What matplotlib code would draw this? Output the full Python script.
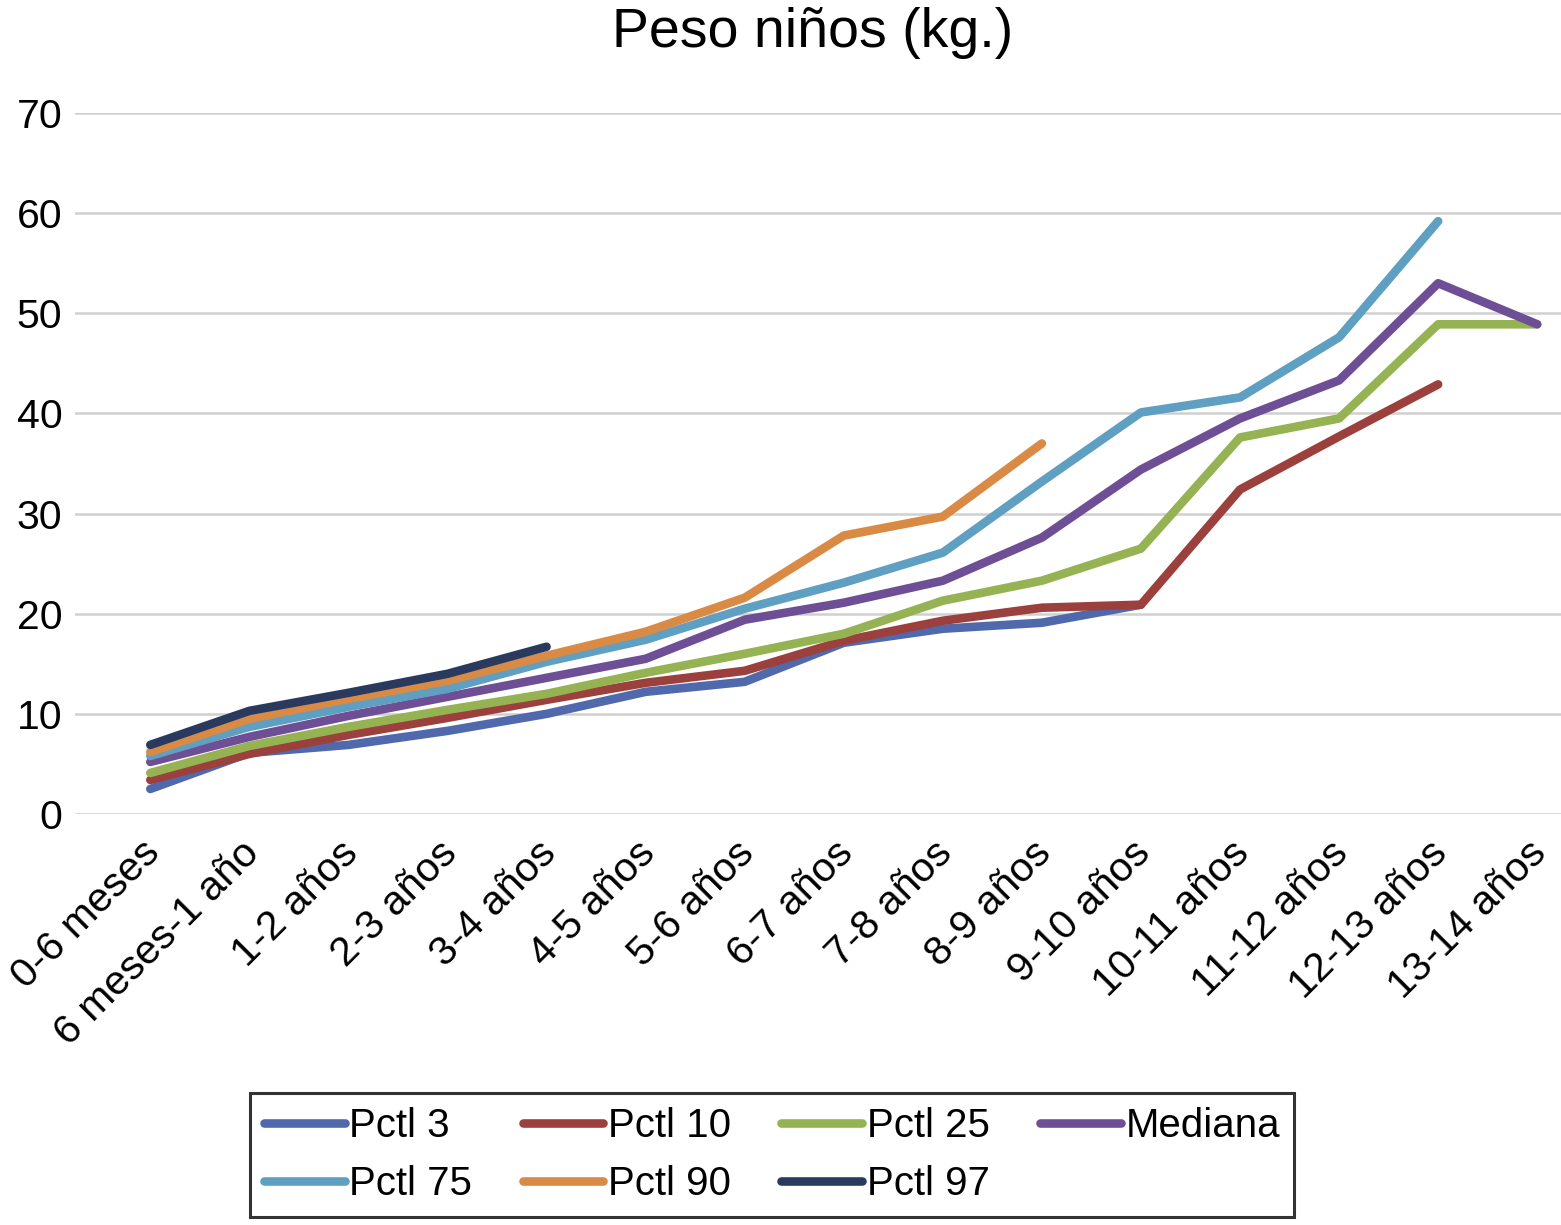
import matplotlib
matplotlib.use('Agg')
import matplotlib.pyplot as plt
import matplotlib.transforms as mtransforms
import numpy as np

nan = np.nan

categorias = ['0-6 meses', '6 meses-1 año', '1-2 años', '2-3 años', '3-4 años',
              '4-5 años', '5-6 años', '6-7 años', '7-8 años', '8-9 años',
              '9-10 años', '10-11 años', '11-12 años', '12-13 años', '13-14 años']

pctl_3 = [2.5, 6.1, 6.9, 8.3, 10.0, 12.2, 13.2, 17.1, 18.5, 19.1, 20.9,
          nan, nan, nan, nan]
pctl_10 = [3.4, 6.0, 7.9, 9.6, 11.4, 13.1, 14.3, 17.3, 19.3, 20.6, 20.9,
           32.4, 37.7, 42.9, nan]
pctl_25 = [4.1, 6.8, 8.7, 10.4, 12.0, 14.1, 16.0, 18.0, 21.3, 23.3, 26.5,
           37.6, 39.5, 48.9, 48.9]
mediana = [5.2, 7.7, 9.8, 11.7, 13.6, 15.5, 19.4, 21.1, 23.3, 27.6, 34.4,
           39.5, 43.3, 53.0, 48.9]
pctl_75 = [5.8, 8.7, 10.7, 12.5, 15.2, 17.4, 20.5, 23.1, 26.1, 33.2, 40.1,
           41.6, 47.6, 59.2, nan]
pctl_90 = [6.2, 9.5, 11.5, 13.3, 15.8, 18.2, 21.6, 27.8, 29.7, 37.0,
           nan, nan, nan, nan, nan]
pctl_97 = [6.9, 10.3, 12.1, 14.0, 16.7,
           nan, nan, nan, nan, nan, nan, nan, nan, nan, nan]

series = [
    ('Pctl 3', pctl_3, '#5068ac'),
    ('Pctl 10', pctl_10, '#9b403c'),
    ('Pctl 25', pctl_25, '#95b352'),
    ('Mediana', mediana, '#6e4f95'),
    ('Pctl 75', pctl_75, '#5e9fc2'),
    ('Pctl 90', pctl_90, '#d98a45'),
    ('Pctl 97', pctl_97, '#2a3a5f'),
]

plt.rcParams['font.family'] = ['Liberation Sans', 'DejaVu Sans']

fig = plt.figure(figsize=(15.61, 12.25), dpi=100)
ax = fig.add_axes([75 / 1561, 1 - 814 / 1225, 1 - 75 / 1561, (814 - 113) / 1225])

x = np.arange(len(categorias))
lines = {}
for nombre, valores, color in series:
    ln, = ax.plot(x, valores, color=color, lw=6.2, solid_capstyle='round',
                  solid_joinstyle='round', label=nombre)
    lines[nombre] = ln

ax.set_ylim(0, 70)
ax.set_xlim(-0.76, 14.24)
ax.set_yticks(range(0, 71, 10))
ax.yaxis.grid(True, color='#d0d0d0', lw=1.8)
ax.set_axisbelow(True)
for s in ax.spines.values():
    s.set_visible(False)
ax.tick_params(axis='both', length=0, labelsize=29.5)
ax.tick_params(axis='y', pad=9)
ax.tick_params(axis='x', pad=14)
ax.set_xticks(x)
ax.set_xticklabels(categorias, rotation=45, ha='right', va='top',
                   rotation_mode='anchor')
# desplazar un poco las etiquetas rotadas hacia la izquierda
off = mtransforms.ScaledTranslation(-10 / 100, 0, fig.dpi_scale_trans)
for lbl in ax.get_xticklabels():
    lbl.set_transform(lbl.get_transform() + off)

fig.text(813 / 1561, 1 - 33 / 1225, 'Peso niños (kg.)', fontsize=40,
         ha='center', va='center')

orden = ['Pctl 3', 'Pctl 75', 'Pctl 10', 'Pctl 90', 'Pctl 25', 'Pctl 97', 'Mediana']
leg = fig.legend([lines[n] for n in orden], orden, ncol=4, loc='center',
                 bbox_to_anchor=(772 / 1561, 70 / 1225), fontsize=29,
                 frameon=True, fancybox=False, edgecolor='black',
                 handlelength=2.0, handletextpad=0.12, columnspacing=1.25,
                 labelspacing=0.5, borderpad=0.35)
leg.get_frame().set_linewidth(2.2)

fig.savefig('out.png', dpi=100)
